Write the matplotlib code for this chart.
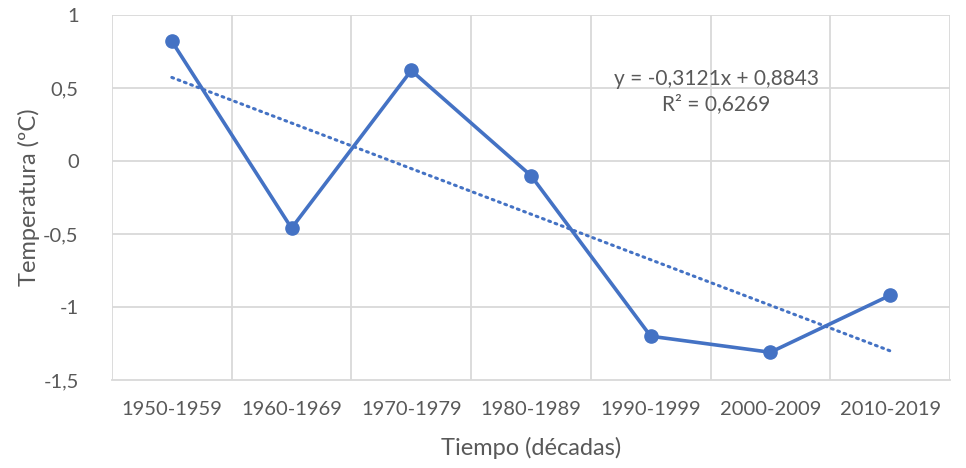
import matplotlib.pyplot as plt
import numpy as np

plt.rcParams['font.family'] = ['Lato', 'DejaVu Sans']

decades = ["1950-1959", "1960-1969", "1970-1979", "1980-1989",
           "1990-1999", "2000-2009", "2010-2019"]
temps = [0.82, -0.46, 0.62, -0.10, -1.20, -1.31, -0.92]
slope = -0.3121
intercept = 0.8843
r2 = 0.6269

BLUE = "#4472C4"
GREY = "#595959"
GRID = "#D9D9D9"

fig = plt.figure(figsize=(9.66, 4.68), dpi=100)
ax = fig.add_axes([0.1159, 0.188, 0.8675, 0.780])

x = np.arange(1, len(temps) + 1)
ax.plot(x, temps, color=BLUE, lw=2.6, marker="o", ms=9.5, zorder=3)

trend = slope * x + intercept
ax.plot(x, trend, color=BLUE, lw=2.2, linestyle=(0, (0.6, 1.6)),
        dash_capstyle="round", zorder=2)

ax.set_xlim(0.5, len(temps) + 0.5)
ax.set_ylim(-1.5, 1)
ax.set_yticks([1, 0.5, 0, -0.5, -1, -1.5])
ax.set_yticklabels(["1", "0,5", "0", "-0,5", "-1", "-1,5"])
ax.set_xticks(x)
ax.set_xticklabels(decades)

# category boundary gridlines (Excel style)
for b in np.arange(0.5, len(temps) + 1, 1.0):
    ax.axvline(b, color=GRID, lw=1.3, zorder=0)
for yv in [1, 0.5, 0, -0.5, -1]:
    ax.axhline(yv, color=GRID, lw=1.3, zorder=0)

for s in ["top", "right", "left"]:
    ax.spines[s].set_visible(False)
ax.spines["bottom"].set_color(GRID)
ax.spines["bottom"].set_linewidth(1.3)
ax.tick_params(length=0, labelsize=14.5, colors=GREY, pad=15)
ax.tick_params(axis="y", pad=24)

ax.set_xlabel("Tiempo (décadas)", fontsize=17, color=GREY, labelpad=14)
ax.set_ylabel("Temperatura (ºC)", fontsize=17, color=GREY, labelpad=2)

ax.text(5.55, 0.56, f"y = {slope:.4f}x + {intercept:.4f}".replace(".", ","),
        ha="center", va="center", fontsize=15, color=GREY)
ax.text(5.55, 0.39, f"R² = {r2:.4f}".replace(".", ","),
        ha="center", va="center", fontsize=15, color=GREY)

fig.savefig("out.png", dpi=100)
